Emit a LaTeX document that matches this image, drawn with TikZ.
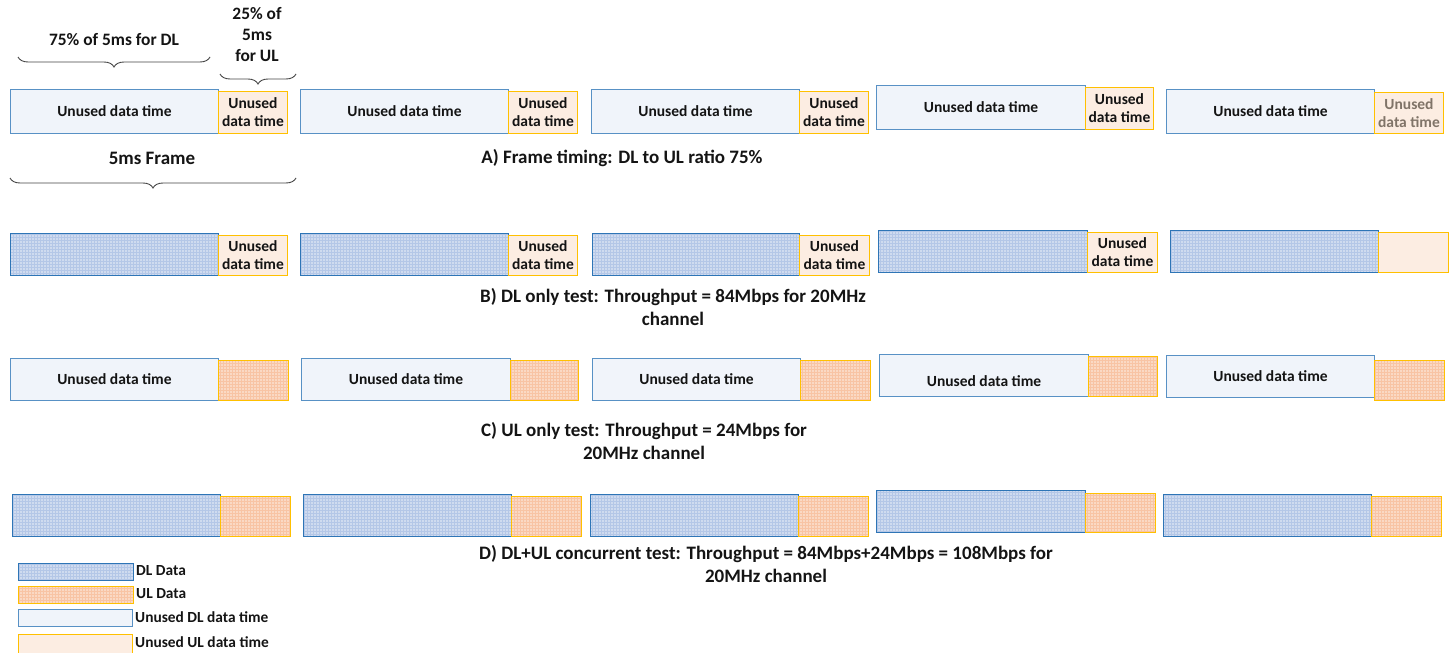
\documentclass[tikz,border=0pt]{standalone}
\usepackage{fontspec}
\setmainfont{Carlito}
\usetikzlibrary{patterns,decorations.pathreplacing}
\pgfdeclarepatternformonly{sqdots}{\pgfpoint{-0.5pt}{-0.5pt}}{\pgfpoint{2.5pt}{2.5pt}}{\pgfpoint{3pt}{3pt}}{\pgfpathrectangle{\pgfpointorigin}{\pgfpoint{1.5pt}{1.5pt}}\pgfusepath{fill}}
\definecolor{dlb}{RGB}{46,117,182}
\definecolor{dlu}{RGB}{240,244,250}
\definecolor{dld}{RGB}{180,199,231}
\definecolor{ulb}{RGB}{255,192,0}
\definecolor{ulu}{RGB}{252,237,226}
\definecolor{uld}{RGB}{248,196,164}
\definecolor{txt}{RGB}{20,20,20}
\definecolor{gtxt}{RGB}{128,116,104}
\tikzset{
  bx/.style={anchor=north west, inner sep=0pt, line width=1pt, align=center, font=\fontsize{15.5}{18}\selectfont\bfseries, text=txt},
  dlun/.style={bx, draw=dlb!80, fill=dlu},
  ulun/.style={bx, draw=ulb, fill=ulu},
  dlda/.style={bx, draw=dlb, pattern=sqdots, pattern color=white!85!dld, preaction={fill=dld}},
  ulda/.style={bx, draw=ulb, pattern=sqdots, pattern color=white!85!uld, preaction={fill=uld}},
  lbl/.style={align=center, font=\fontsize{19}{23}\selectfont\bfseries, text=txt, inner sep=0pt},
  lbs/.style={align=center, font=\fontsize{17.4}{21}\selectfont\bfseries, text=txt, inner sep=0pt},
  leg/.style={anchor=west, font=\fontsize{15.4}{17}\selectfont\bfseries, text=txt, inner sep=0pt},
  brc/.style={draw=txt!80, line width=0.9pt, decorate, decoration={brace, amplitude=10pt}}
}
\newcommand\bxn[7]{\node[#2, minimum width=#5pt, minimum height=#6pt] (#1) at (#3,#4) {#7};}
\begin{document}
\begin{tikzpicture}[x=1pt,y=-1pt]
\useasboundingbox (0,0) rectangle (1456,653);
% Row A
\bxn{a1d}{dlun}{10}{89}{208}{44}{Unused data time}
\bxn{a1u}{ulun}{218}{91}{69}{42}{Unused\\data time}
\bxn{a2d}{dlun}{300}{89}{208}{44}{Unused data time}
\bxn{a2u}{ulun}{508}{91}{69}{42}{Unused\\data time}
\bxn{a3d}{dlun}{591}{89}{208}{44}{Unused data time}
\bxn{a3u}{ulun}{799}{91}{69}{42}{Unused\\data time}
\bxn{a4d}{dlun}{876}{85}{209}{44}{Unused data time}
\bxn{a4u}{ulun}{1085}{87}{68}{42}{Unused\\data time}
\bxn{a5d}{dlun}{1166}{89}{208}{44}{Unused data time}
\node[ulun, text=gtxt, minimum width=69pt, minimum height=41pt] (a5u) at (1374,92) {Unused\\data time};
% braces
\coordinate (b1r) at (210,57); \coordinate (b1l) at (18,57);
\draw[brc] (b1r) -- (b1l);
\coordinate (b2r) at (296,74); \coordinate (b2l) at (220,74);
\draw[brc] (b2r) -- (b2l);
\coordinate (b3r) at (296,178); \coordinate (b3l) at (10,178);
\draw[brc] (b3r) -- (b3l);
\node[lbs] (t75) at (114,40) {75\% of 5ms for DL};
\node[lbs] (t25) at (257,35) {25\% of\\5ms\\for UL};
\node[lbl] (tfr) at (152,158) {5ms Frame};
\node[lbl] (la) at (622,158) {A) Frame timing: DL to UL ratio 75\%};
% Row B
\bxn{b1d}{dlda}{10}{233}{208}{42}{}
\bxn{b1u}{ulun}{218}{235}{69}{40}{Unused\\data time}
\bxn{b2d}{dlda}{300}{233}{208}{42}{}
\bxn{b2u}{ulun}{508}{235}{69}{40}{Unused\\data time}
\bxn{b3d}{dlda}{592}{233}{207}{42}{}
\bxn{b3u}{ulun}{799}{235}{70}{40}{Unused\\data time}
\bxn{b4d}{dlda}{878}{230}{209}{42}{}
\bxn{b4u}{ulun}{1087}{232}{70}{40}{Unused\\data time}
\bxn{b5d}{dlda}{1170}{230}{208}{42}{}
\bxn{b5u}{ulun}{1378}{232}{70}{40}{}
\node[lbl] (lb) at (673,307) {B) DL only test: Throughput = 84Mbps for 20MHz\\channel};
% Row C
\bxn{c1d}{dlun}{10}{358}{208}{42}{Unused data time}
\bxn{c1u}{ulda}{218}{360}{70}{40}{}
\bxn{c2d}{dlun}{301}{358}{209}{42}{Unused data time}
\bxn{c2u}{ulda}{510}{360}{68}{40}{}
\node[dlun, fill=dlu!85!dld!60, minimum width=208pt, minimum height=42pt] (c3d) at (592,358) {Unused data time};
\bxn{c3u}{ulda}{800}{360}{70}{40}{}
\node[dlun, minimum width=209pt, minimum height=42pt, text height=23pt] (c4d) at (879,354) {Unused data time};
\bxn{c4u}{ulda}{1088}{356}{69}{40}{}
\bxn{c5d}{dlun}{1166}{355}{208}{42}{Unused data time}
\bxn{c5u}{ulda}{1374}{360}{70}{40}{}
\node[lbl] (lc) at (644,441) {C) UL only test: Throughput = 24Mbps for\\20MHz channel};
% Row D
\bxn{d1d}{dlda}{12}{494}{208}{42}{}
\bxn{d1u}{ulda}{220}{496}{70}{40}{}
\bxn{d2d}{dlda}{303}{494}{208}{42}{}
\bxn{d2u}{ulda}{511}{496}{70}{40}{}
\bxn{d3d}{dlda}{590}{494}{208}{42}{}
\bxn{d3u}{ulda}{798}{496}{70}{40}{}
\bxn{d4d}{dlda}{876}{490}{209}{42}{}
\bxn{d4u}{ulda}{1085}{493}{70}{39}{}
\bxn{d5d}{dlda}{1163}{494}{208}{42}{}
\bxn{d5u}{ulda}{1371}{496}{70}{40}{}
\node[lbl] (ld) at (766,564) {D) DL+UL concurrent test: Throughput = 84Mbps+24Mbps = 108Mbps for\\20MHz channel};
% Legend
\bxn{g1}{dlda}{18}{563}{115}{17}{}
\bxn{g2}{ulda}{18}{586}{115}{17}{}
\bxn{g3}{dlun}{18}{609}{114}{17}{}
\bxn{g4}{ulun}{18}{634}{114}{20}{}
\node[leg] (g1t) at (136,571) {DL Data};
\node[leg] (g2t) at (136,594) {UL Data};
\node[leg] (g3t) at (135,617) {Unused DL data time};
\node[leg] (g4t) at (135,642) {Unused UL data time};
\end{tikzpicture}
\end{document}
